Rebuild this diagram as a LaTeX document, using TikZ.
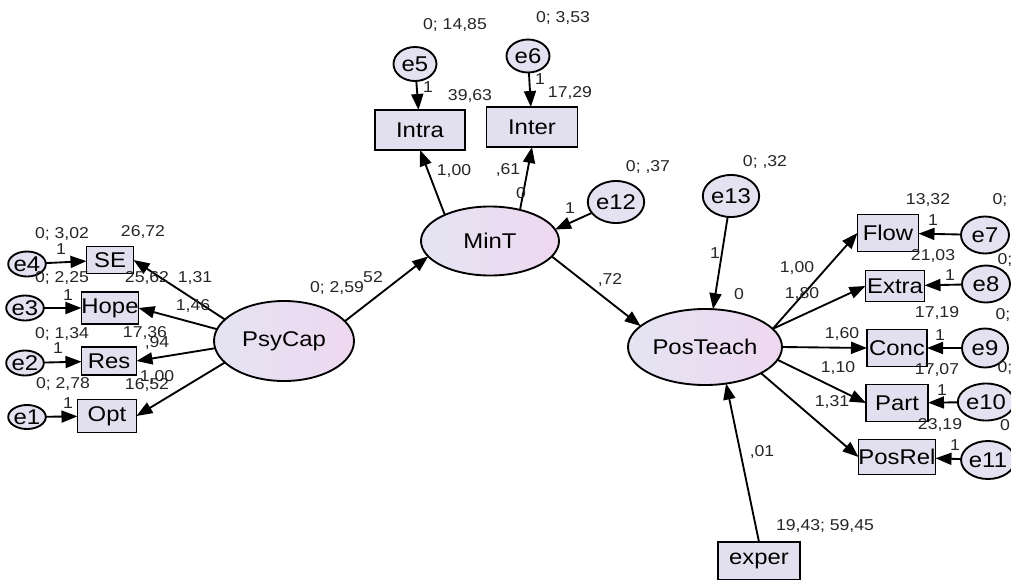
\documentclass[tikz,border=0pt]{standalone}
\usepackage{fontspec}
\setmainfont{Liberation Sans}[FakeStretch=1.12]
\usetikzlibrary{arrows.meta,shapes.geometric}
\definecolor{boxfill}{RGB}{226,224,238}
\definecolor{errfill}{RGB}{228,226,240}
\definecolor{ellL}{RGB}{228,228,242}
\definecolor{ellR}{RGB}{238,216,240}
\begin{document}
\begin{tikzpicture}[x=0.75pt,y=-0.75pt,
 every node/.style={inner sep=0pt, outer sep=0pt},
 sz/.style 2 args={minimum width=#1*0.75pt, minimum height=#2*0.75pt},
 obs/.style={draw, line width=1.4pt, fill=boxfill, rectangle, font=\fontsize{16}{18}\selectfont},
 err/.style={draw, line width=1.4pt, fill=errfill, ellipse, font=\fontsize{16}{18}\selectfont},
 lat/.style={draw, line width=1.4pt, ellipse, left color=ellL, right color=ellR, font=\fontsize{16}{18}\selectfont},
 lbl/.style={font=\fontsize{11.8}{14}\selectfont, text=black!85},
 arr/.style={line width=1.4pt, -{Triangle[length=12pt,width=9pt]}},
]
\clip (0,0) rectangle (1011,579);
\fill[white] (0,0) rectangle (1011,579);

% ---------- left cluster ----------
\node[err, sz={36}{25}] (e4) at (27,264) {e4};
\node[err, sz={35}{25}] (e3) at (25,308) {e3};
\node[err, sz={35}{25}] (e2) at (25,363) {e2};
\node[err, sz={35}{24}] (e1) at (27,417) {e1};
\node[obs, sz={47}{27}] (SE) at (110,260) {SE};
\node[obs, sz={54}{32}] (Hope) at (110,308) {Hope};
\node[obs, sz={55}{28}] (Res) at (109,361) {Res};
\node[obs, sz={59}{33}] (Opt) at (107,416) {Opt};

% ---------- latent ----------
\node[lat, sz={140}{80}] (PsyCap) at (284,341) {PsyCap};
\node[lat, sz={138}{69}] (MinT) at (490,241) {MinT};
\node[lat, sz={154}{76}] (PosTeach) at (705,347) {PosTeach};

% ---------- top ----------
\node[err, sz={43}{34}] (e5) at (415,64) {e5};
\node[err, sz={43}{33}] (e6) at (528,56) {e6};
\node[obs, sz={90}{40}] (Intra) at (420,130) {Intra};
\node[obs, sz={91}{40}] (Inter) at (532,127) {Inter};
\node[err, sz={47}{42}] (e12) at (616,202) {e12};
\node[err, sz={46}{42}] (e13) at (731,196) {e13};

% ---------- right cluster ----------
\node[obs, sz={61}{37}] (Flow) at (888,233) {Flow};
\node[obs, sz={59}{31}] (Extra) at (895,286) {Extra};
\node[obs, sz={60}{37}] (Conc) at (897,348) {Conc};
\node[obs, sz={62}{37}] (Part) at (897,403) {Part};
\node[obs, sz={72}{35}] (PosRel) at (897,457) {PosRel};
\node[err, sz={48}{37}] (e7) at (985,235) {e7};
\node[err, sz={48}{37}] (e8) at (986,284) {e8};
\node[err, sz={46}{39}] (e9) at (985,348) {e9};
\node[err, sz={46}{37}] (e10) at (986,402) {e10};
\node[err, sz={46}{38}] (e11) at (988,460) {e11};
\node[obs, sz={82}{38}] (exper) at (759,561) {exper};

% ---------- connectors ----------
\draw[arr] (e4) -- (SE);
\draw[arr] (e3) -- (Hope);
\draw[arr] (e2) -- (Res);
\draw[arr] (e1) -- (Opt);
\draw[arr] (PsyCap.160) -- (SE.east);
\draw[arr] (PsyCap.170) -- (Hope.east);
\draw[arr] (PsyCap.186) -- (Res.east);
\draw[arr] (PsyCap.200) -- (Opt.east);
\draw[arr] (PsyCap.18) -- (MinT.194);
\draw[arr] (MinT.150) -- (Intra.south);
\draw[arr] (MinT.46) -- (Inter.south);
\draw[arr] (e5) -- (Intra);
\draw[arr] (e6) -- (Inter);
\draw[arr] (e12) -- (MinT.10);
\draw[arr] (MinT.-14) -- (PosTeach.162);
\draw[arr] (e13) -- (PosTeach.78);
\draw[arr] (exper.north) -- (PosTeach.-60);
\draw[arr] (PosTeach.15) -- (Flow.west);
\draw[arr] (PosTeach.15) -- (Extra.west);
\draw[arr] (PosTeach.east) -- (Conc.west);
\draw[arr] (PosTeach.-10) -- (Part.west);
\draw[arr] (PosTeach.-25) -- (PosRel.west);
\draw[arr] (e7) -- (Flow);
\draw[arr] (e8) -- (Extra);
\draw[arr] (e9) -- (Conc);
\draw[arr] (e10) -- (Part);
\draw[arr] (e11) -- (PosRel);

% ---------- labels ----------
\node[lbl] (l1) at (62,234) {0; 3,02};
\node[lbl] (l2) at (143,232) {26,72};
\node[lbl] (l3) at (61,249) {1};
\node[lbl] (l4) at (62,278) {0; 2,25};
\node[lbl] (l5) at (147,278) {25,62};
\node[lbl] (l6) at (195,278) {1,31};
\node[lbl] (l7) at (68,295) {1};
\node[lbl] (l8) at (193,306) {1,46};
\node[lbl] (l9) at (62,334) {0; 1,34};
\node[lbl] (l10) at (145,333) {17,36};
\node[lbl] (l11) at (157,343) {,94};
\node[lbl] (l12) at (58,348) {1};
\node[lbl] (l13) at (63,384) {0; 2,78};
\node[lbl] (l14) at (147,385) {16,52};
\node[lbl] (l15) at (157,377) {1,00};
\node[lbl] (l16) at (68,403) {1};

\node[lbl] (l17) at (337,288) {0; 2,59};
\node[lbl] (l18) at (373,277) {52};
\node[lbl] (l19) at (455,25) {0; 14,85};
\node[lbl] (l20) at (563,18) {0; 3,53};
\node[lbl] (l21) at (428,87) {1};
\node[lbl] (l22) at (470,96) {39,63};
\node[lbl] (l23) at (540,79) {1};
\node[lbl] (l24) at (570,93) {17,29};
\node[lbl] (l25) at (454,171) {1,00};
\node[lbl] (l26) at (508,170) {,61};
\node[lbl] (l27) at (521,193) {0};
\node[lbl] (l28) at (648,167) {0; ,37};
\node[lbl] (l29) at (570,208) {1};
\node[lbl] (l30) at (765,162) {0; ,32};
\node[lbl] (l31) at (610,280) {,72};
\node[lbl] (l32) at (715,253) {1};
\node[lbl] (l33) at (739,294) {0};

\node[lbl] (l34) at (797,268) {1,00};
\node[lbl] (l35) at (802,294) {1,80};
\node[lbl] (l36) at (842,334) {1,60};
\node[lbl] (l37) at (838,368) {1,10};
\node[lbl] (l38) at (832,402) {1,31};
\node[lbl] (l39) at (928,200) {13,32};
\node[lbl] (l40) at (1000,200) {0;};
\node[lbl] (l41) at (933,220) {1};
\node[lbl] (l42) at (933,256) {21,03};
\node[lbl] (l43) at (1005,260) {0;};
\node[lbl] (l44) at (950,275) {1};
\node[lbl] (l45) at (937,313) {17,19};
\node[lbl] (l46) at (1003,315) {0;};
\node[lbl] (l47) at (940,335) {1};
\node[lbl] (l48) at (937,370) {17,07};
\node[lbl] (l49) at (1005,368) {0;};
\node[lbl] (l50) at (942,390) {1};
\node[lbl] (l51) at (940,425) {23,19};
\node[lbl] (l52) at (1005,425) {0};
\node[lbl] (l53) at (955,445) {1};
\node[lbl] (l54) at (762,452) {,01};
\node[lbl] (l55) at (825,526) {19,43; 59,45};
\end{tikzpicture}
\end{document}
